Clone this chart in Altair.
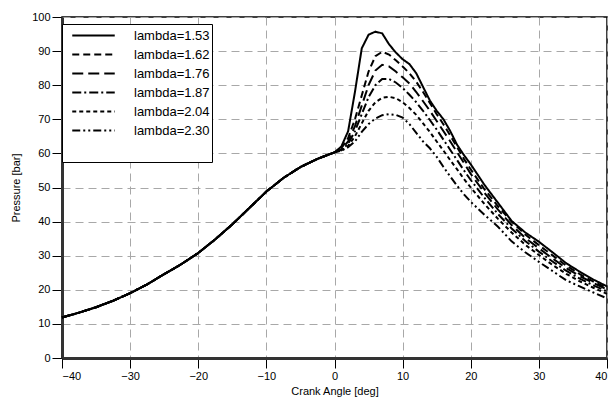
import altair as alt
import pandas as pd

# Shared compression stroke (all lambda values overlap here)
comp_angle = [-40, -37.5, -35, -32.5, -30, -27.5, -25, -22.5, -20, -17.5,
              -15, -12.5, -10, -7.5, -5, -2.5]
comp_p = [11.9, 13.3, 14.9, 16.8, 19.0, 21.6, 24.6, 27.5, 30.8, 34.8,
          39.2, 44.0, 48.8, 52.8, 56.0, 58.4]

# Combustion / expansion part, per lambda
comb_angle = [0, 1, 2, 3, 4, 5, 6, 7, 8, 9, 10, 11, 12, 13, 14, 15, 16, 17, 18, 19, 20,
              22, 24, 26, 28, 30, 32, 34, 36, 38, 40]
p_153 = [60.3, 62.0, 66.5, 78.0, 90.8, 94.8, 95.7, 95.2, 92.0, 89.6, 87.6, 86.2, 83.5, 79.5,
         75.5, 72.5, 70.0, 66.5, 62.5, 59.5, 56.8, 50.8, 45.5, 40.2, 36.8, 34.1, 31.0, 27.8,
         25.3, 23.0, 21.0]
p_162 = [60.3, 61.5, 64.5, 70.0, 77.0, 84.0, 88.5, 89.8, 89.0, 87.3, 85.5, 83.5, 81.0, 78.0,
         74.8, 71.5, 68.5, 65.2, 61.8, 58.4, 55.3, 49.5, 44.5, 40.0, 36.2, 33.1, 30.1, 27.1,
         24.6, 22.4, 20.5]
p_176 = [60.3, 61.2, 63.5, 68.0, 74.0, 80.0, 84.3, 86.0, 85.5, 84.0, 82.3, 80.5, 78.0, 75.3,
         72.5, 69.5, 66.5, 63.5, 60.3, 57.2, 54.0, 48.5, 43.5, 39.0, 35.2, 32.2, 29.2, 26.4,
         24.0, 22.0, 20.1]
p_187 = [60.3, 61.0, 62.8, 66.5, 71.5, 76.5, 80.0, 81.8, 81.8, 80.8, 79.2, 77.2, 75.0, 72.5,
         69.8, 67.0, 64.0, 61.0, 58.0, 55.0, 52.2, 47.0, 42.2, 38.0, 34.3, 31.2, 28.3, 25.6,
         23.3, 21.3, 19.5]
p_204 = [60.3, 60.9, 62.2, 65.0, 68.8, 72.5, 75.0, 76.3, 76.6, 76.2, 75.0, 73.3, 71.3, 68.8,
         66.3, 63.5, 60.8, 58.0, 55.3, 52.5, 50.0, 45.2, 40.8, 36.8, 33.2, 30.2, 27.3, 24.7,
         22.5, 20.6, 18.8]
p_230 = [60.3, 60.8, 61.8, 63.5, 66.3, 68.6, 70.2, 71.2, 71.5, 71.3, 70.5, 68.6, 66.0, 63.5,
         61.5, 59.0, 56.0, 53.2, 50.5, 48.0, 45.8, 42.0, 38.5, 34.2, 31.0, 28.2, 25.5, 22.8,
         21.0, 19.2, 17.5]

labels = ["lambda=1.53", "lambda=1.62", "lambda=1.76", "lambda=1.87", "lambda=2.04", "lambda=2.30"]
series = [p_153, p_162, p_176, p_187, p_204, p_230]
dashes = [[1, 0], [7, 4], [11, 5], [9, 3, 2, 3], [4, 3], [8, 3, 2, 3, 2, 3]]

x_ticks = [-40, -30, -20, -10, 0, 10, 20, 30, 40]
y_ticks = [0, 10, 20, 30, 40, 50, 60, 70, 80, 90, 100]

rows = []
for lab, vals in zip(labels, series):
    for a, p in zip(comp_angle, comp_p):
        rows.append({"series": lab, "angle": a, "p": p})
    for a, p in zip(comb_angle, vals):
        rows.append({"series": lab, "angle": a, "p": p})
df = pd.DataFrame(rows)

FONT = "Liberation Sans"

chart = alt.Chart(df).mark_line(color="black", strokeWidth=2).encode(
    x=alt.X("angle:Q",
            scale=alt.Scale(domain=[-40, 40], nice=False, zero=False),
            axis=alt.Axis(values=x_ticks, title="Crank Angle [deg]", tickSize=10,
                          labelPadding=2, titlePadding=4)),
    y=alt.Y("p:Q",
            scale=alt.Scale(domain=[0, 100], nice=False),
            axis=alt.Axis(values=y_ticks, title="Pressure [bar]", tickSize=10,
                          labelPadding=2, titlePadding=10)),
    strokeDash=alt.StrokeDash(
        "series:N",
        scale=alt.Scale(domain=labels, range=dashes),
        sort=labels,
        legend=alt.Legend(
            title=" ", titleOrient="bottom", titleFontSize=14, titlePadding=8,
            orient="none", legendX=0, legendY=7,
            fillColor="white", strokeColor="black", padding=2,
            symbolType="M-2.5,0L2.5,0", symbolSize=289, symbolStrokeWidth=2,
            symbolStrokeColor="black", symbolOffset=20,
            labelFont=FONT, labelFontSize=13, labelColor="black", labelOffset=31,
            rowPadding=2,
        ),
    ),
).properties(
    width=545, height=341,
    padding={"left": 62, "top": 17, "right": 6, "bottom": 40},
    autosize="none",
).configure_view(
    stroke="black", strokeWidth=1.5
).configure_axis(
    labelFont=FONT, labelFontSize=11, labelColor="black",
    titleFont=FONT, titleFontSize=11, titleFontWeight="normal", titleColor="black",
    domainColor="#333333", domainWidth=3, tickColor="black",
    gridColor="#a8a8a8", gridDash=[8, 5], gridWidth=1,
)

chart.save("out.html", embed_options={"renderer": "svg", "actions": False})
